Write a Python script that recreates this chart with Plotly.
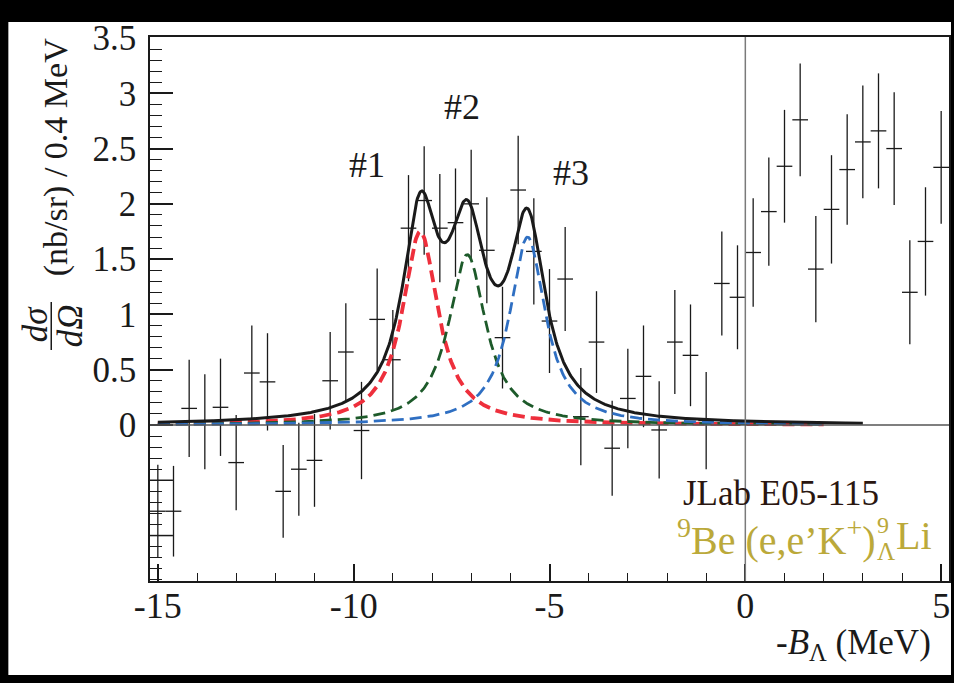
import numpy as np
import plotly.graph_objects as go

# ---------------- data ----------------
bin_centers = [-15.0, -14.6, -14.2, -13.8, -13.4, -13.0, -12.6, -12.2, -11.8, -11.4,
               -11.0, -10.6, -10.2, -9.8, -9.4, -9.0, -8.6, -8.2, -7.8, -7.4,
               -7.0, -6.6, -6.2, -5.8, -5.4, -5.0, -4.6, -4.2, -3.8, -3.4,
               -3.0, -2.6, -2.2, -1.8, -1.4, -1.0, -0.6, -0.2, 0.2, 0.6,
               1.0, 1.4, 1.8, 2.2, 2.6, 3.0, 3.4, 3.8, 4.2, 4.6, 5.0]
cross_section = [-0.78, -0.78, 0.15, 0.03, 0.16, -0.34, 0.47, 0.39, -0.60, -0.40,
                 -0.32, 0.40, 0.66, -0.05, 0.955, 0.59, 1.78, 2.03, 1.78, 1.83,
                 2.00, 1.58, 0.79, 2.125, 1.57, 0.94, 1.32, 0.075, 0.75, -0.21,
                 0.24, 0.44, -0.045, 0.75, 0.63, 0.04, 1.28, 1.155, 1.56, 1.93,
                 2.34, 2.76, 1.41, 1.95, 2.31, 2.56, 2.66, 2.50, 1.20, 1.66, 2.33]
cross_section_err = [0.42, 0.41, 0.44, 0.43, 0.44, 0.43, 0.43, 0.44, 0.42, 0.42,
                     0.42, 0.44, 0.44, 0.44, 0.46, 0.45, 0.48, 0.49, 0.49, 0.49,
                     0.49, 0.48, 0.46, 0.49, 0.48, 0.47, 0.47, 0.44, 0.46, 0.43,
                     0.45, 0.46, 0.44, 0.47, 0.46, 0.44, 0.47, 0.47, 0.49, 0.49,
                     0.51, 0.51, 0.48, 0.49, 0.50, 0.51, 0.52, 0.51, 0.47, 0.49, 0.51]
bin_half_width = [0.2] * len(bin_centers)

# fitted peaks (Lorentzian parameters)
peak_names = ["#1", "#2", "#3"]
peak_centers = [-8.30, -7.10, -5.56]
peak_heights = [1.75, 1.54, 1.70]
peak_hwhm = [0.55, 0.58, 0.55]
component_range = [-15.0, 2.0]
total_range = [-15.0, 3.0]

x_tick_vals = [-15, -10, -5, 0, 5]
x_tick_text = ["-15", "-10", "-5", "0", "5"]
y_tick_vals = [0, 0.5, 1, 1.5, 2, 2.5, 3, 3.5]
y_tick_text = ["0", "0.5", "1", "1.5", "2", "2.5", "3", "3.5"]
y_unlabelled_major = [-0.5, -1.0]

# ---------------- figure ----------------
W, H = 954, 683
ML, MR, MT, MB = 150, 3, 37, 102
PW, PH = W - ML - MR, H - MT - MB


def px(xp):
    return (xp - ML) / PW


def py(yp):
    return (H - MB - yp) / PH


SERIF = "Liberation Serif"
INK = "#1a1a1a"
OLIVE = "#bba93a"
comp_colors = ["#ee2f3c", "#1d5a2a", "#2f6fc2"]
comp_widths = [3.8, 2.8, 2.8]


def lorentz(x, c, h, g):
    return h / (1.0 + ((x - c) / g) ** 2)


xc = np.linspace(component_range[0], component_range[1], 800)
xt = np.linspace(total_range[0], total_range[1], 900)

fig = go.Figure()

fig.add_trace(go.Scatter(
    x=bin_centers, y=cross_section, mode="markers",
    marker=dict(size=0, color="rgba(0,0,0,0)"),
    error_y=dict(type="data", array=cross_section_err, visible=True,
                 color=INK, thickness=1.3, width=0),
    error_x=dict(type="data", array=bin_half_width, visible=True,
                 color=INK, thickness=1.3, width=0),
    showlegend=False, hoverinfo="skip"))

total = np.zeros_like(xt)
for c, h, g in zip(peak_centers, peak_heights, peak_hwhm):
    total = total + lorentz(xt, c, h, g)

for c, h, g, col, w in zip(peak_centers, peak_heights, peak_hwhm, comp_colors, comp_widths):
    fig.add_trace(go.Scatter(x=xc, y=lorentz(xc, c, h, g), mode="lines",
                             line=dict(color=col, width=w, dash="12px,6px"),
                             showlegend=False, hoverinfo="skip"))

fig.add_trace(go.Scatter(x=xt, y=total, mode="lines",
                         line=dict(color=INK, width=3),
                         showlegend=False, hoverinfo="skip"))

shapes = [
    dict(type="rect", xref="paper", yref="paper", x0=px(8), x1=px(953), y0=py(675), y1=py(22),
         fillcolor="white", line=dict(width=0), layer="below"),
    dict(type="line", xref="x", yref="paper", x0=0, x1=0, y0=0, y1=1,
         line=dict(color="#7a7a7a", width=1.5)),
    dict(type="line", xref="paper", yref="y", x0=0, x1=1, y0=0, y1=0,
         line=dict(color="#555555", width=1.3)),
    # fraction bar of the y-axis title
    dict(type="line", xref="paper", yref="paper", x0=px(51), x1=px(51), y0=py(302), y1=py(350),
         line=dict(color=INK, width=1.5)),
]
for v in y_unlabelled_major:
    shapes.append(dict(type="line", xref="paper", yref="y", x0=0, x1=23 / PW, y0=v, y1=v,
                       line=dict(color=INK, width=1.5)))

ann = []
label_pos = [(-9.66, 2.347), (-7.23, 2.88), (-4.46, 2.276)]
for name, (lx, ly) in zip(peak_names, label_pos):
    ann.append(dict(x=lx, y=ly, xref="x", yref="y", text=name, showarrow=False,
                    font=dict(family=SERIF, size=36, color=INK),
                    xanchor="center", yanchor="middle"))

ann += [
    dict(x=px(56), y=py(157), xref="paper", yref="paper", text="(nb/sr) / 0.4 MeV",
         textangle=-90, showarrow=False, font=dict(family=SERIF, size=34, color=INK),
         xanchor="center", yanchor="middle"),
    dict(x=px(35), y=py(324), xref="paper", yref="paper", text="<i>dσ</i>",
         textangle=-90, showarrow=False, font=dict(family=SERIF, size=35, color=INK),
         xanchor="center", yanchor="middle"),
    dict(x=px(70), y=py(326), xref="paper", yref="paper", text="<i>dΩ</i>",
         textangle=-90, showarrow=False, font=dict(family=SERIF, size=35, color=INK),
         xanchor="center", yanchor="middle"),
    dict(x=px(935), y=py(644), xref="paper", yref="paper",
         text="-<i>B</i><sub>Λ</sub> (MeV)", showarrow=False,
         font=dict(family=SERIF, size=35, color=INK), xanchor="right", yanchor="middle"),
    dict(x=px(883), y=py(493), xref="paper", yref="paper", text="JLab E05-115",
         showarrow=False, font=dict(family=SERIF, size=35, color="#2a1610"),
         xanchor="right", yanchor="middle"),
    dict(x=px(880), y=py(537), xref="paper", yref="paper",
         text="<sup>9</sup>Be (e,e’K<sup>+</sup>)", showarrow=False,
         font=dict(family=SERIF, size=40, color=OLIVE), xanchor="right", yanchor="middle"),
    dict(x=px(896), y=py(535), xref="paper", yref="paper", text="Li", showarrow=False,
         font=dict(family=SERIF, size=40, color=OLIVE), xanchor="left", yanchor="middle"),
    dict(x=px(885), y=py(525), xref="paper", yref="paper", text="9", showarrow=False,
         font=dict(family=SERIF, size=24, color=OLIVE), xanchor="center", yanchor="middle"),
    dict(x=px(888), y=py(551), xref="paper", yref="paper", text="Λ", showarrow=False,
         font=dict(family=SERIF, size=25, color=OLIVE), xanchor="center", yanchor="middle"),
]

fig.update_layout(
    width=W, height=H,
    margin=dict(l=ML, r=MR, t=MT, b=MB, pad=0),
    paper_bgcolor="black", plot_bgcolor="white",
    shapes=shapes, annotations=ann, showlegend=False,
    xaxis=dict(range=[-15.2, 5.2], showgrid=False, zeroline=False,
               showline=True, mirror=True, linecolor=INK, linewidth=1.5,
               ticks="inside", tickvals=x_tick_vals, ticktext=x_tick_text,
               ticklen=17, tickwidth=1.5, tickcolor=INK, ticklabelstandoff=-8,
               minor=dict(ticks="inside", dtick=1, tick0=0, ticklen=8,
                          tickwidth=1.3, tickcolor=INK, showgrid=False),
               tickfont=dict(family=SERIF, size=36, color=INK)),
    yaxis=dict(range=[-1.411, 3.509], showgrid=False, zeroline=False,
               showline=True, mirror=True, linecolor=INK, linewidth=1.5,
               ticks="inside", tickvals=y_tick_vals, ticktext=y_tick_text,
               ticklen=23, tickwidth=1.5, tickcolor=INK, ticklabelstandoff=5,
               minor=dict(ticks="inside", dtick=0.1, tick0=0, ticklen=12,
                          tickwidth=1.3, tickcolor=INK, showgrid=False),
               tickfont=dict(family=SERIF, size=35, color=INK)),
)

fig.write_html("out.html", config={"displayModeBar": False},
               post_script="document.body.style.margin='0px';")
